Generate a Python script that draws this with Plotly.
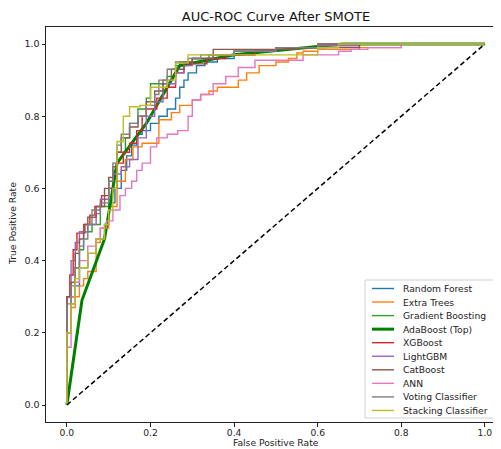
import plotly.graph_objects as go

# ---------------- data ----------------
model_names = ["Random Forest", "Extra Trees", "Gradient Boosting", "AdaBoost (Top)", "XGBoost",
               "LightGBM", "CatBoost", "ANN", "Voting Classifier", "Stacking Classifier"]
model_colors = ["#1f77b4", "#ff7f0e", "#2ca02c", "#008000", "#d62728",
                "#9467bd", "#8c564b", "#e377c2", "#7f7f7f", "#bcbd22"]

rf_fpr = [0, 0, 0.01, 0.02, 0.03, 0.05, 0.07, 0.09, 0.1, 0.115, 0.13, 0.143, 0.155, 0.167, 0.18, 0.2, 0.22, 0.24, 0.26, 0.27, 0.28, 0.29, 0.31, 0.33, 0.36, 0.4, 0.45, 0.5, 0.55, 0.62, 0.7, 1.0]
rf_tpr = [0, 0.1, 0.2, 0.28, 0.33, 0.38, 0.42, 0.46, 0.5, 0.56, 0.6, 0.65, 0.69, 0.72, 0.75, 0.76, 0.78, 0.80, 0.82, 0.85, 0.88, 0.90, 0.92, 0.94, 0.95, 0.96, 0.97, 0.98, 0.985, 0.99, 1.0, 1.0]

et_fpr = [0, 0, 0.01, 0.02, 0.03, 0.04, 0.05, 0.07, 0.08, 0.1, 0.12, 0.14, 0.158, 0.18, 0.22, 0.25, 0.27, 0.30, 0.32, 0.34, 0.36, 0.38, 0.41, 0.43, 0.46, 0.50, 0.53, 0.55, 0.565, 0.6, 0.7, 0.8, 0.85, 1.0]
et_tpr = [0, 0.125, 0.2, 0.27, 0.30, 0.33, 0.35, 0.37, 0.45, 0.49, 0.55, 0.62, 0.68, 0.715, 0.725, 0.79, 0.81, 0.83, 0.845, 0.86, 0.87, 0.88, 0.88, 0.90, 0.92, 0.94, 0.95, 0.96, 0.975, 0.98, 0.985, 0.99, 1.0, 1.0]

gb_fpr = [0, 0, 0.01, 0.02, 0.03, 0.04, 0.06, 0.08, 0.1, 0.11, 0.12, 0.14, 0.15, 0.17, 0.19, 0.2, 0.215, 0.24, 0.26, 0.27, 0.3, 0.34, 0.4, 0.5, 0.6, 0.7, 1.0]
gb_tpr = [0, 0.05, 0.2, 0.3, 0.38, 0.43, 0.48, 0.5, 0.55, 0.6, 0.65, 0.7, 0.74, 0.78, 0.82, 0.85, 0.89, 0.89, 0.91, 0.94, 0.95, 0.96, 0.97, 0.98, 0.99, 1.0, 1.0]

ada_fpr = [0, 0.036, 0.09, 0.12, 0.19, 0.22, 0.27, 0.40, 0.66, 1.0]
ada_tpr = [0, 0.29, 0.46, 0.67, 0.78, 0.84, 0.94, 0.97, 1.0, 1.0]

xgb_fpr = [0, 0, 0.007, 0.015, 0.024, 0.043, 0.055, 0.067, 0.083, 0.1, 0.12, 0.135, 0.15, 0.167, 0.18, 0.19, 0.215, 0.24, 0.26, 0.28, 0.29, 0.335, 0.38, 0.45, 0.5, 0.6, 0.7, 1.0]
xgb_tpr = [0, 0.1, 0.3, 0.36, 0.43, 0.476, 0.5, 0.526, 0.55, 0.58, 0.6, 0.67, 0.70, 0.725, 0.76, 0.80, 0.82, 0.85, 0.88, 0.92, 0.94, 0.945, 0.96, 0.97, 0.98, 0.99, 1.0, 1.0]

lgb_fpr = [0, 0, 0.01, 0.02, 0.03, 0.05, 0.07, 0.08, 0.1, 0.11, 0.13, 0.15, 0.17, 0.19, 0.21, 0.23, 0.26, 0.28, 0.3, 0.35, 0.4, 0.5, 0.6, 0.7, 1.0]
lgb_tpr = [0, 0.08, 0.3, 0.4, 0.45, 0.48, 0.5, 0.53, 0.57, 0.62, 0.64, 0.66, 0.68, 0.74, 0.8, 0.84, 0.89, 0.92, 0.94, 0.96, 0.97, 0.98, 0.99, 0.995, 1.0]

cat_fpr = [0, 0, 0.01, 0.02, 0.03, 0.04, 0.05, 0.07, 0.09, 0.1, 0.11, 0.12, 0.13, 0.15, 0.17, 0.19, 0.21, 0.23, 0.25, 0.28, 0.3, 0.35, 0.55, 0.7, 0.85, 1.0]
cat_tpr = [0, 0.1, 0.3, 0.34, 0.42, 0.46, 0.5, 0.52, 0.55, 0.6, 0.63, 0.66, 0.70, 0.74, 0.77, 0.80, 0.84, 0.87, 0.90, 0.93, 0.95, 0.96, 0.985, 0.99, 1.0, 1.0]

ann_fpr = [0, 0, 0.01, 0.02, 0.03, 0.05, 0.07, 0.08, 0.095, 0.11, 0.127, 0.14, 0.155, 0.167, 0.18, 0.2, 0.215, 0.24, 0.265, 0.29, 0.3, 0.32, 0.35, 0.38, 0.41, 0.45, 0.565, 0.65, 0.68, 0.72, 0.8, 0.88, 1.0]
ann_tpr = [0, 0.1, 0.16, 0.3, 0.34, 0.4, 0.44, 0.46, 0.49, 0.51, 0.54, 0.58, 0.6, 0.62, 0.65, 0.67, 0.715, 0.74, 0.75, 0.76, 0.8, 0.845, 0.86, 0.89, 0.91, 0.935, 0.955, 0.97, 0.98, 0.985, 0.99, 1.0, 1.0]

vot_fpr = [0, 0, 0.01, 0.02, 0.03, 0.04, 0.05, 0.06, 0.08, 0.1, 0.11, 0.12, 0.13, 0.15, 0.17, 0.19, 0.21, 0.22, 0.24, 0.26, 0.29, 0.32, 0.4, 0.5, 0.6, 0.75, 1.0]
vot_tpr = [0, 0.1, 0.28, 0.33, 0.38, 0.44, 0.46, 0.5, 0.54, 0.56, 0.62, 0.67, 0.72, 0.75, 0.78, 0.80, 0.83, 0.86, 0.90, 0.93, 0.95, 0.96, 0.97, 0.98, 0.99, 1.0, 1.0]

stk_fpr = [0, 0, 0.01, 0.02, 0.03, 0.05, 0.07, 0.09, 0.1, 0.11, 0.12, 0.135, 0.15, 0.175, 0.2, 0.24, 0.26, 0.29, 0.35, 0.6, 0.65, 0.75, 1.0]
stk_tpr = [0, 0.08, 0.2, 0.28, 0.35, 0.38, 0.42, 0.46, 0.5, 0.54, 0.6, 0.73, 0.80, 0.826, 0.83, 0.88, 0.90, 0.947, 0.97, 0.97, 0.99, 1.0, 1.0]

diag_x = [0, 1]
diag_y = [0, 1]

tick_vals = [0.0, 0.2, 0.4, 0.6, 0.8, 1.0]
tick_text = ["0.0", "0.2", "0.4", "0.6", "0.8", "1.0"]

curves = [(rf_fpr, rf_tpr), (et_fpr, et_tpr), (gb_fpr, gb_tpr), (ada_fpr, ada_tpr), (xgb_fpr, xgb_tpr),
          (lgb_fpr, lgb_tpr), (cat_fpr, cat_tpr), (ann_fpr, ann_tpr), (vot_fpr, vot_tpr), (stk_fpr, stk_tpr)]

# ---------------- figure ----------------
fig = go.Figure()
for name, color, (fx, ty) in zip(model_names, model_colors, curves):
    is_ada = name.startswith("AdaBoost")
    fig.add_trace(go.Scatter(
        x=fx, y=ty, mode="lines", name=name,
        line=dict(color=color, width=3 if is_ada else 1.4, shape="linear" if is_ada else "vh"),
        showlegend=False,
    ))
fig.add_trace(go.Scatter(x=diag_x, y=diag_y, mode="lines",
                         line=dict(color="black", width=1.5, dash="5px,3px"), showlegend=False))

# page geometry: the HTML body has an 8px margin, so the figure sits at (8, 8)
OFF = 8
PAGE_W, PAGE_H = 501, 449
W, H = PAGE_W - OFF, PAGE_H - OFF
# plot area in page pixels: x 46..501, y 27..422
L, R, T = 46 - OFF, 0, 27 - OFF
B = H - (422 - OFF)
pw, ph = W - L - R, H - T - B

def px2x(px):
    return (px - OFF - L) / pw

def py2y(py):
    return (H - B - (py - OFF)) / ph

# manual legend (matplotlib style, compact)
shapes = []
annotations = []
bx0, bx1, by0, by1 = 365, 497, 280, 418
shapes.append(dict(type="rect", xref="paper", yref="paper",
                   x0=px2x(bx0), x1=px2x(bx1), y0=py2y(by1), y1=py2y(by0),
                   line=dict(color="#d0d0d0", width=1), fillcolor="rgba(255,255,255,0.85)", layer="above"))
row0, row_step = 288.5, 13.55
for i, (name, color) in enumerate(zip(model_names, model_colors)):
    yy = py2y(row0 + i * row_step)
    shapes.append(dict(type="line", xref="paper", yref="paper",
                       x0=px2x(372), x1=px2x(394), y0=yy, y1=yy,
                       line=dict(color=color, width=3 if name.startswith("AdaBoost") else 1.4),
                       layer="above"))
    annotations.append(dict(xref="paper", yref="paper", x=px2x(401), y=yy, xanchor="left", yanchor="middle",
                            text=name, showarrow=False, font=dict(size=9.2, color="#222")))

# axis titles as annotations placed at the reference positions
annotations.append(dict(xref="paper", yref="paper", x=px2x(276), y=py2y(449), xanchor="center", yanchor="bottom",
                        borderpad=0, text="False Positive Rate", showarrow=False,
                        font=dict(size=9.2, color="#222")))
annotations.append(dict(xref="paper", yref="paper", x=px2x(12), y=py2y(224), xanchor="center", yanchor="middle",
                        text="True Positive Rate", textangle=-90, showarrow=False, font=dict(size=9.2, color="#222")))

fig.update_layout(
    width=W, height=H,
    margin=dict(l=L, r=R, t=T, b=B, autoexpand=False),
    paper_bgcolor="white", plot_bgcolor="white",
    font=dict(family="DejaVu Sans", size=10, color="#222"),
    title=dict(text="AUC-ROC Curve After SMOTE", x=(276 - OFF) / W, xanchor="center", xref="container",
               y=1 - (16 - OFF) / H, yanchor="middle", yref="container",
               font=dict(size=13, color="#111")),
    xaxis=dict(range=[-0.05, -0.05 + pw / 418], tickvals=tick_vals, ticktext=tick_text,
               showgrid=False, zeroline=False, showline=True, linecolor="#222", linewidth=1, mirror=True,
               ticks="outside", ticklen=3.5, tickcolor="#222", automargin=False,
               ticklabelstandoff=-2, tickfont=dict(size=9.2)),
    yaxis=dict(range=[-17 / 361, 1 + 17 / 361], tickvals=tick_vals, ticktext=tick_text,
               showgrid=False, zeroline=False, showline=True, linecolor="#222", linewidth=1, mirror=False,
               ticks="outside", ticklen=3.5, tickcolor="#222", automargin=False,
               tickfont=dict(size=9.5)),
    shapes=shapes, annotations=annotations,
    showlegend=False,
)

fig.write_html("out.html")
